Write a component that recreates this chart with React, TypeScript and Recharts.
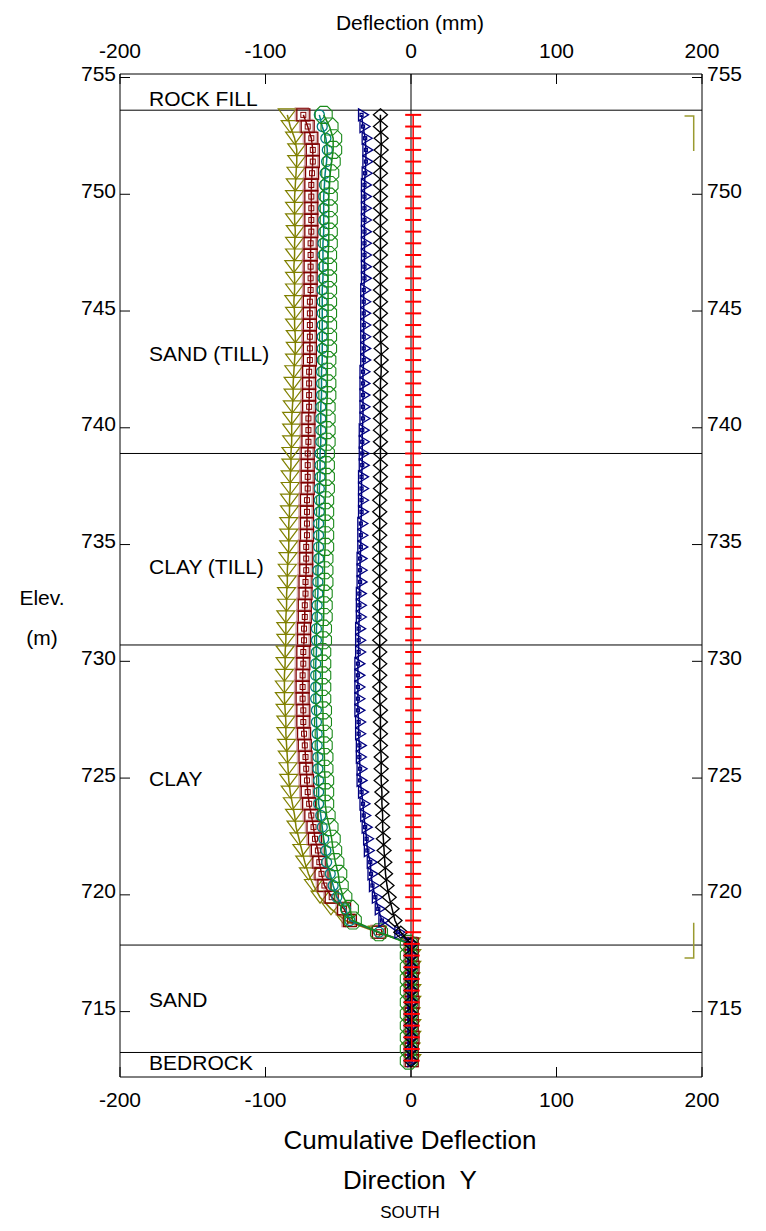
import { ReferenceLine, Scatter, ScatterChart, XAxis, YAxis } from 'recharts'

// reading elevations (m), 0.5 m probe interval
const ELEVATION = [
  753.4, 752.9, 752.4, 751.9, 751.4, 750.9, 750.4, 749.9, 749.4, 748.9,
  748.4, 747.9, 747.4, 746.9, 746.4, 745.9, 745.4, 744.9, 744.4, 743.9,
  743.4, 742.9, 742.4, 741.9, 741.4, 740.9, 740.4, 739.9, 739.4, 738.9,
  738.4, 737.9, 737.4, 736.9, 736.4, 735.9, 735.4, 734.9, 734.4, 733.9,
  733.4, 732.9, 732.4, 731.9, 731.4, 730.9, 730.4, 729.9, 729.4, 728.9,
  728.4, 727.9, 727.4, 726.9, 726.4, 725.9, 725.4, 724.9, 724.4, 723.9,
  723.4, 722.9, 722.4, 721.9, 721.4, 720.9, 720.4, 719.9, 719.4, 718.9,
  718.4, 717.9, 717.4, 716.9, 716.4, 715.9, 715.4, 714.9, 714.4, 713.9,
  713.4, 712.9,
]

// cumulative deflection (mm) per survey
const SURVEY_A = [
  -85, -83, -80, -78.5, -78.5, -79, -79.5, -80, -80, -80,
  -79.5, -80, -80, -80.5, -80, -80, -80.5, -80, -80, -79.5,
  -79.5, -80, -80.5, -81, -81, -81.5, -82, -82, -82, -82.5,
  -82.5, -83, -83, -83.5, -83.5, -84, -84, -84, -84.5, -85,
  -85, -85.5, -85.5, -86, -86, -86, -86.5, -86.5, -87, -87,
  -87, -86.5, -86, -86, -85.5, -85, -84.5, -84, -83, -81.5,
  -80, -79, -77, -75, -73, -70.5, -67, -62.5, -55, -45,
  -23, 0, 0.5, 0.5, 0, 0.5, 0.5, 0, 0.5, 0.5,
  0, 0.5,
]
const SURVEY_B = [
  -74, -71, -68.5, -67.5, -67.5, -68, -68.5, -68.5, -68.5, -68.5,
  -68.5, -69, -69, -69, -69, -69, -69.5, -69.5, -69.5, -69.5,
  -69.5, -69.5, -70, -70, -70, -70, -70.5, -70.5, -70.5, -71,
  -71, -71, -71, -71.5, -71.5, -71.5, -71.5, -72, -72, -72,
  -72.5, -72.5, -73, -73, -73.5, -73.5, -74, -74, -74.5, -74.5,
  -74.5, -74, -74, -73.5, -73, -72.5, -72, -71.5, -71, -70,
  -68.5, -67, -66, -64, -63, -61.5, -59.5, -54.5, -46, -42,
  -22, 0.5, 0.5, 1, 0.5, 0.5, 1, 0.5, 0.5, 1,
  0.5, 0.5,
]
const SURVEY_C = [
  -63, -61, -58.5, -57.5, -58, -59, -59.5, -60, -60, -60,
  -60, -60.5, -60.5, -60.5, -60.5, -61, -61, -61, -61, -61,
  -61, -61, -61.5, -61.5, -61.5, -62, -62, -62, -62, -62.5,
  -62.5, -62.5, -63, -63, -63, -63.5, -63.5, -63.5, -63.5, -64,
  -64, -64, -64.5, -64.5, -65, -65, -65, -65.5, -65.5, -65.5,
  -65.5, -65, -65, -64.5, -64.5, -64, -64, -63.5, -63.5, -63.5,
  -62, -61, -60, -58.5, -58, -55.5, -53.5, -51, -45, -42,
  -22, 0, 0, 0.5, 0, 0, 0.5, 0, 0, 0.5,
  0, 0,
]
const SURVEY_D = [
  -60, -56, -53.5, -53.5, -54.5, -55.5, -56, -56.5, -56.5, -56.5,
  -56.5, -56.5, -57, -57, -57, -57, -57, -57, -57, -57,
  -57, -57.5, -57.5, -57.5, -57.5, -58, -58, -58, -58, -58.5,
  -58.5, -58.5, -58.5, -59, -59, -59, -59, -59, -59.5, -59.5,
  -59.5, -60, -60, -60, -60.5, -60.5, -61, -61, -61, -61,
  -61, -60.5, -60.5, -60, -60, -59.5, -59.5, -59, -59, -59,
  -58, -56, -54.5, -53.5, -52, -50, -49, -46.5, -42, -40,
  -22, -1.5, -1.5, -1.5, -1.5, -1.5, -1.5, -1.5, -1.5, -1.5,
  -1.5, -1.5,
]
const SURVEY_E = [
  -34, -33, -31.5, -31, -31, -31.5, -32, -32, -32, -32,
  -32, -32, -32, -32, -32, -32.5, -32.5, -32.5, -32.5, -32.5,
  -32.5, -32.5, -33, -33, -33, -33, -33, -33.5, -33.5, -33.5,
  -33.5, -34, -34, -34, -34, -34.5, -34.5, -34.5, -35, -35,
  -35, -35.5, -35.5, -35.5, -36, -36, -36, -36.5, -36.5, -36.5,
  -36.5, -36.5, -36, -36, -35.5, -35.5, -35, -35, -34, -33,
  -32.5, -31.5, -30.5, -30, -28, -27.5, -26.5, -24.5, -22.5, -20,
  -9, 0, 0, 0, 0, 0, 0, 0, 0, 0,
  0, 0,
]
const SURVEY_F = [
  -21, -21, -20.5, -20.5, -21, -21, -21, -21, -21, -21,
  -21, -21, -21, -21, -21, -21, -21, -21, -21, -21,
  -20.5, -20.5, -20.5, -21, -21, -21, -21, -21, -21, -21,
  -21, -21, -21, -21.5, -21.5, -21.5, -21.5, -21.5, -21.5, -21.5,
  -21.5, -21.5, -21.5, -21.5, -21.5, -21.5, -21.5, -21.5, -21.5, -21.5,
  -21.5, -21, -21, -21, -21, -20.5, -20.5, -20.5, -20, -20,
  -19.5, -19.5, -19, -18.5, -18, -17.5, -16.5, -15, -13, -11,
  -7, 0, 0, 0, 0, 0, 0, 0, 0, 0,
  0, 0,
]
const SURVEY_INITIAL = [
  1.5, 1.5, 1.5, 1.5, 1.5, 1.5, 1.5, 1.5, 1.5, 1.5,
  1.5, 1.5, 1.5, 1.5, 1.5, 1.5, 1.5, 1.5, 1.5, 1.5,
  1.5, 1.5, 1.5, 1.5, 1.5, 1.5, 1.5, 1.5, 1.5, 1.5,
  1.5, 1.5, 1.5, 1.5, 1.5, 1.5, 1.5, 1.5, 1.5, 1.5,
  1.5, 1.5, 1.5, 1.5, 1.5, 1.5, 1.5, 1.5, 1.5, 1.5,
  1.5, 1.5, 1.5, 1.5, 1.5, 1.5, 1.5, 1.5, 1.5, 1.5,
  1.5, 1.5, 1.5, 1.5, 1.5, 1.5, 1.5, 1.5, 1.5, 1.5,
  1.5, 0.5, 0.5, 0.5, 0.5, 0.5, 0.5, 0.5, 0.5, 0.5,
  0.5, 0.5,
]

// stratigraphy
const LAYER_BOUNDS = [753.6, 738.9, 730.7, 717.85, 713.25]
const LAYER_NAMES = ['ROCK FILL', 'SAND (TILL)', 'CLAY (TILL)', 'CLAY', 'SAND', 'BEDROCK']
const LAYER_NAME_ELEV = [754.12, 743.2, 734.05, 725.0, 715.5, 712.83]
const LAYER_NAME_X = -180

// casing brackets at the right edge
const CASING_TOP = [
  { x: 188, y: 753.35 },
  { x: 194.3, y: 753.35 },
  { x: 194.3, y: 751.85 },
]
const CASING_BOTTOM = [
  { x: 194.3, y: 718.8 },
  { x: 194.3, y: 717.3 },
  { x: 188, y: 717.3 },
]

const X_TICKS = [-200, -100, 0, 100, 200]
const Y_TICKS = [715, 720, 725, 730, 735, 740, 745, 750, 755]
const Y_DOMAIN: [number, number] = [712.2, 755.15]

const FONT = '"Liberation Sans", Arial, sans-serif'

type TickProps = { x?: number; y?: number; textAnchor?: string; payload?: { value: number } }

// tick label, centred on its anchor point, with an optional lift
const makeTick = (lift: number) => ({ x = 0, y = 0, textAnchor, payload }: TickProps) => (
  <text x={x} y={y - lift} textAnchor={textAnchor as 'start' | 'middle' | 'end'} dominantBaseline="central"
    fontSize={21} fontFamily={FONT} fill="#000">
    {payload?.value}
  </text>
)
const XTick = makeTick(0)
const YTick = makeTick(4)

type P = { cx?: number; cy?: number; payload?: { name?: string } }

const TriDown = ({ cx = 0, cy = 0 }: P) => (
  <path d={`M${cx - 9},${cy - 6}L${cx + 9},${cy - 6}L${cx},${cy + 6}Z`}
    fill="none" stroke="#808000" strokeWidth={1.2} />
)
const SquareMark = ({ cx = 0, cy = 0 }: P) => (
  <g fill="none">
    <rect x={cx - 8} y={cy - 7} width={13} height={13} stroke="#b06060" strokeOpacity={0.5} strokeWidth={1.5} />
    <rect x={cx - 6.5} y={cy - 6} width={13} height={12} stroke="#800000" strokeWidth={1.3} />
    <rect x={cx - 2.5} y={cy - 2.5} width={5} height={5} stroke="#800000" strokeWidth={1} />
  </g>
)
const SmallRing = ({ cx = 0, cy = 0 }: P) => (
  <circle cx={cx} cy={cy} r={5} fill="none" stroke="#008080" strokeWidth={1.3} />
)
const octagon = (cx: number, cy: number, r: number) => {
  const k = r * 0.414
  return `M${cx - k},${cy - r}L${cx + k},${cy - r}L${cx + r},${cy - k}L${cx + r},${cy + k}` +
    `L${cx + k},${cy + r}L${cx - k},${cy + r}L${cx - r},${cy + k}L${cx - r},${cy - k}Z`
}
const Octagon = ({ cx = 0, cy = 0 }: P) => (
  <path d={octagon(cx, cy, 8.5)} fill="none" stroke="#1a8a1a" strokeWidth={1.1} />
)
const TriRight = ({ cx = 0, cy = 0 }: P) => (
  <g fill="none" stroke="#000080" strokeWidth={1.3}>
    <path d={`M${cx - 3},${cy - 6}L${cx + 7},${cy}L${cx - 3},${cy + 6}Z`} />
    <rect x={cx - 1.5} y={cy - 1.5} width={3} height={3} />
  </g>
)
const Diamond = ({ cx = 0, cy = 0 }: P) => (
  <path d={`M${cx},${cy - 6}L${cx + 7},${cy}L${cx},${cy + 6}L${cx - 7},${cy}Z`}
    fill="none" stroke="#000" strokeWidth={1.3} />
)
const Dash = ({ cx = 0, cy = 0 }: P) => (
  <line x1={cx - 8} x2={cx + 8} y1={cy} y2={cy} stroke="#ff0000" strokeWidth={2} />
)
const LayerName = ({ cx = 0, cy = 0, payload }: P) => (
  <text x={cx} y={cy} dominantBaseline="central" fontSize={21} fontFamily={FONT} fill="#000">
    {payload?.name}
  </text>
)
const NoDot = () => <g />

const toPoints = (values: number[]) => values.map((v, i) => ({ x: v, y: ELEVATION[i] }))

const SERIES = [
  { key: 'a', values: SURVEY_A, color: '#808000', shape: TriDown },
  { key: 'b', values: SURVEY_B, color: '#800000', shape: SquareMark },
  { key: 'c', values: SURVEY_C, color: '#008080', shape: SmallRing },
  { key: 'd', values: SURVEY_D, color: '#1a8a1a', shape: Octagon },
  { key: 'e', values: SURVEY_E, color: '#000080', shape: TriRight },
  { key: 'f', values: SURVEY_F, color: '#000000', shape: Diamond },
  { key: 'init', values: SURVEY_INITIAL, color: '#ff0000', shape: Dash },
]

const layerNames = LAYER_NAMES.map((name, i) => ({ x: LAYER_NAME_X, y: LAYER_NAME_ELEV[i], name }))

const centered = (top: number, size: number): React.CSSProperties => ({
  position: 'absolute', left: 202, width: 400, top, textAlign: 'center',
  fontSize: size, lineHeight: `${size}px`, whiteSpace: 'pre',
})
const sideLabel = (top: number): React.CSSProperties => ({
  position: 'absolute', left: 4, width: 60, top, textAlign: 'center', fontSize: 21, lineHeight: '21px',
})

const axisLine = { stroke: '#000' }

export default function App() {
  return (
    <div style={{ position: 'relative', width: 750, height: 1215, fontFamily: FONT, color: '#000' }}>
      <ScatterChart width={750} height={1110} margin={{ top: 26, right: 6, bottom: 5, left: 52 }}>
        <XAxis xAxisId="bottom" type="number" dataKey="x" domain={[-200, 200]} ticks={X_TICKS}
          orientation="bottom" height={36} tickSize={-10} tickMargin={32} tick={XTick}
          axisLine={axisLine} tickLine={axisLine} allowDataOverflow />
        <XAxis xAxisId="top" type="number" dataKey="x" domain={[-200, 200]} ticks={X_TICKS}
          orientation="top" height={40} tickSize={-10} tickMargin={34} tick={XTick}
          axisLine={axisLine} tickLine={axisLine} allowDataOverflow />
        <YAxis yAxisId="left" type="number" dataKey="y" domain={Y_DOMAIN} ticks={Y_TICKS}
          orientation="left" width={60} tickSize={-10} tickMargin={14} tick={YTick}
          axisLine={axisLine} tickLine={axisLine} allowDataOverflow />
        <YAxis yAxisId="right" type="number" dataKey="y" domain={Y_DOMAIN} ticks={Y_TICKS}
          orientation="right" width={50} tickSize={-10} tickMargin={15} tick={YTick}
          axisLine={axisLine} tickLine={axisLine} allowDataOverflow />

        <ReferenceLine xAxisId="bottom" yAxisId="left" x={0} stroke="#555" strokeWidth={1.5} />
        {LAYER_BOUNDS.map((e) => (
          <ReferenceLine key={e} xAxisId="bottom" yAxisId="left" y={e} stroke="#000" strokeWidth={1} />
        ))}

        <Scatter xAxisId="bottom" yAxisId="left" data={layerNames} shape={LayerName} isAnimationActive={false} />
        <Scatter xAxisId="bottom" yAxisId="left" data={CASING_TOP} shape={NoDot}
          line={{ stroke: '#9a9a30', strokeWidth: 1.5 }} isAnimationActive={false} />
        <Scatter xAxisId="bottom" yAxisId="left" data={CASING_BOTTOM} shape={NoDot}
          line={{ stroke: '#9a9a30', strokeWidth: 1.5 }} isAnimationActive={false} />

        {SERIES.map((s) => (
          <Scatter key={s.key} xAxisId="bottom" yAxisId="left" data={toPoints(s.values)}
            shape={s.shape} line={{ stroke: s.color, strokeWidth: 1.5 }} isAnimationActive={false} />
        ))}
      </ScatterChart>

      <div style={centered(3.5, 21)}>Deflection (mm)</div>
      <div style={sideLabel(578.5)}>Elev.</div>
      <div style={sideLabel(618.5)}>(m)</div>
      <div style={centered(1119, 26)}>Cumulative Deflection</div>
      <div style={centered(1159, 26)}>Direction  Y</div>
      <div style={centered(1195.5, 17)}>SOUTH</div>
    </div>
  )
}
